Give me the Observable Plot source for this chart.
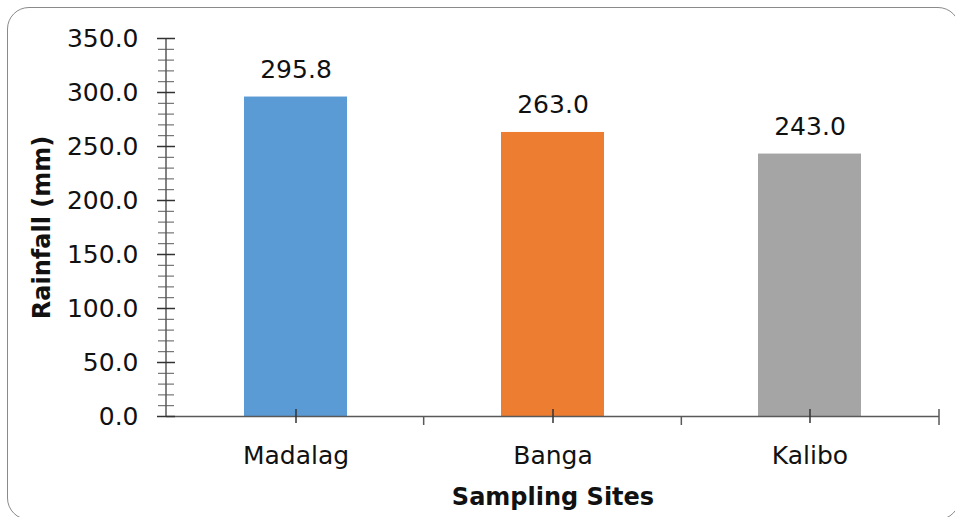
<!DOCTYPE html>
<html>
<head>
<meta charset="utf-8">
<script src="https://cdn.jsdelivr.net/npm/d3@7"></script>
<script src="https://cdn.jsdelivr.net/npm/@observablehq/plot@0.6"></script>
<style>
  html, body { margin: 0; padding: 0; background: #fff; overflow: hidden; }
  #wrap { position: relative; width: 955px; height: 517px; }
  #border {
    position: absolute; left: 7px; top: 7px; width: 953px; height: 513px;
    border: 1.5px solid #8a8a8a; border-radius: 22px; box-sizing: border-box;
    pointer-events: none;
  }
  #wrap svg { position: absolute; left: 0; top: 0; }
</style>
</head>
<body>
<div id="wrap"><div id="border"></div></div>
<script>
// Mean rainfall per sampling site
const sites = ["Madalag", "Banga", "Kalibo"];
const rainfall = [295.8, 263.0, 243.0];
const barColors = ["#5B9BD5", "#ED7D31", "#A5A5A5"];
const yMajorTicks = [0, 50, 100, 150, 200, 250, 300, 350];
const yMinorTicks = [0, 10, 20, 30, 40, 50, 60, 70, 80, 90, 100, 110, 120, 130, 140, 150, 160, 170,
  180, 190, 200, 210, 220, 230, 240, 250, 260, 270, 280, 290, 300, 310, 320, 330, 340, 350];
const xTitle = "Sampling Sites";
const yTitle = "Rainfall (mm)";

const data = sites.map((site, i) => ({site, rain: rainfall[i]}));

const axisColor = "#595959";
const textColor = "#111";
const font = "'DejaVu Sans', sans-serif";

// y-axis line and the category boundary ticks on the x axis
function axisLines(index, scales, values, dims) {
  const g = d3.create("svg:g").attr("stroke", axisColor).attr("fill", "none");
  const x0 = dims.marginLeft;
  const x1 = dims.width - dims.marginRight;
  const yb = scales.y(0);
  const yt = scales.y(d3.max(yMajorTicks));
  g.append("line")
    .attr("x1", x0).attr("x2", x0).attr("y1", yt).attr("y2", yb)
    .attr("stroke-width", 1.5);
  const step = (x1 - x0) / sites.length;
  for (let i = 1; i <= sites.length; i++) {
    const x = x0 + i * step;
    g.append("line")
      .attr("x1", x).attr("x2", x)
      .attr("y1", i === sites.length ? yb - 7 : yb)
      .attr("y2", yb + 9)
      .attr("stroke-width", 1.5);
  }
  return g.node();
}

const chart = Plot.plot({
  width: 955,
  height: 517,
  marginLeft: 166,
  marginRight: 16,
  marginTop: 38,
  marginBottom: 101,
  style: {fontFamily: font, color: textColor, background: "transparent"},
  x: {domain: sites, paddingInner: 0.6, paddingOuter: 0.3, label: null},
  y: {domain: [0, 350], label: null},
  color: {domain: sites, range: barColors},
  marks: [
    Plot.barY(data, {x: "site", y: "rain", fill: "site"}),
    Plot.ruleY([0], {stroke: axisColor, strokeWidth: 1.5}),
    axisLines,
    // minor and major y ticks crossing the axis line
    Plot.axisY({ticks: yMinorTicks, tickSize: 16, dx: 8, fill: "none", stroke: axisColor, strokeWidth: 1, label: null}),
    Plot.axisY({ticks: yMajorTicks, tickSize: 18, dx: 9, fill: "none", stroke: "#333", strokeWidth: 1.5, label: null}),
    Plot.axisY({ticks: yMajorTicks, tickSize: 0, tickPadding: 28, tickFormat: d => d.toFixed(1),
      fontSize: 25, fill: textColor, label: null}),
    // category ticks crossing the x axis line
    Plot.axisX({tickSize: 14, dy: -7, fill: "none", stroke: "#333", strokeWidth: 1.5, label: null}),
    Plot.axisX({tickSize: 0, tickPadding: 30, fontSize: 25, fill: textColor, label: null}),
    Plot.text(data, {x: "site", y: "rain", text: d => d.rain.toFixed(1), lineAnchor: "bottom",
      dy: -19, fontSize: 25, fill: textColor}),
    Plot.text([xTitle], {text: d => d, frameAnchor: "bottom", dy: 88, fontSize: 24,
      fontWeight: "bold", fill: textColor}),
    Plot.text([yTitle], {text: d => d, frameAnchor: "left", textAnchor: "middle", lineAnchor: "middle",
      dx: -124, rotate: -90, fontSize: 24, fontWeight: "bold", fill: textColor, letterSpacing: 0.5})
  ]
});

document.getElementById("wrap").prepend(chart);
</script>
</body>
</html>
